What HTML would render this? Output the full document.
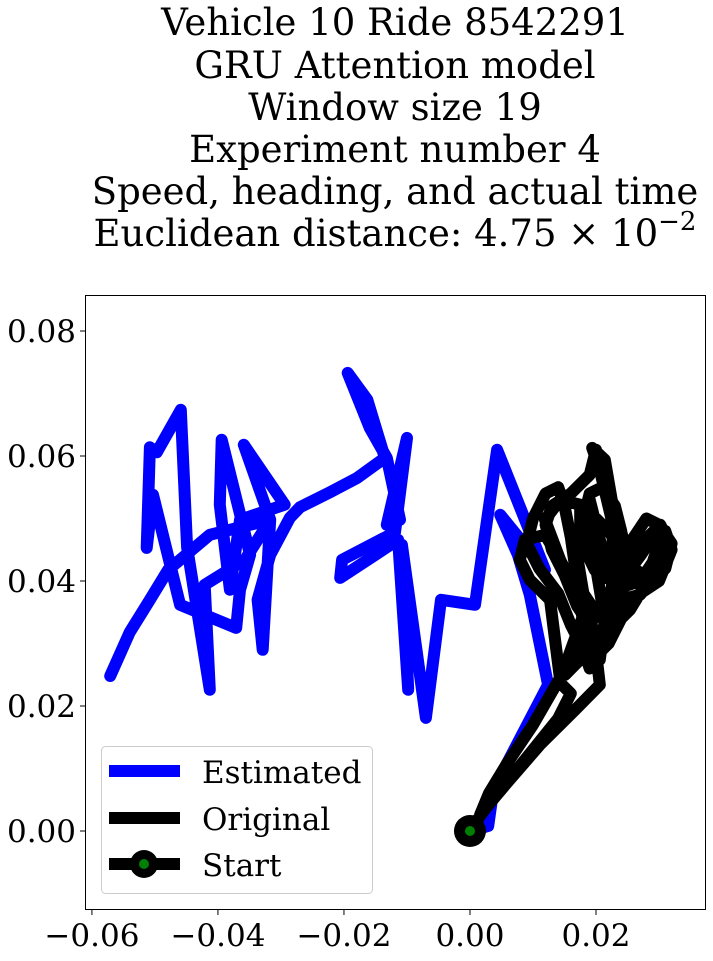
<!DOCTYPE html>
<html><head><meta charset="utf-8">
<style>
html,body{margin:0;padding:0;background:#fff;}
body{width:713px;height:957px;overflow:hidden;font-family:"DejaVu Serif","Liberation Serif",serif;}
svg text{font-family:"DejaVu Serif","Liberation Serif",serif;}
</style></head>
<body>
<svg id="chart" width="713" height="957" xmlns="http://www.w3.org/2000/svg">
  <g font-size="37" text-anchor="middle" fill="#000">
    <text x="395" y="35">Vehicle 10 Ride 8542291</text>
    <text x="395" y="78">GRU Attention model</text>
    <text x="395" y="120">Window size 19</text>
    <text x="395" y="162">Experiment number 4</text>
    <text x="395" y="204">Speed, heading, and actual time</text>
    <text x="395" y="246">Euclidean distance: 4.75 × 10<tspan dy="-16" font-size="26">−2</tspan></text>
  </g>
  <defs><clipPath id="clip"><rect x="85" y="295" width="621" height="615"/></clipPath></defs>
  <g id="marks" clip-path="url(#clip)"></g>
  <rect x="85.5" y="295.5" width="620" height="614" fill="none" stroke="#000" stroke-width="1"/>
  <g id="ticks"></g>
  <g>
    <rect x="101.5" y="746.5" width="271" height="147" rx="4" fill="#fff" fill-opacity="0.8" stroke="#ccc"/>
    <line x1="109" y1="771" x2="180" y2="771" stroke="#0000ff" stroke-width="12"/>
    <text x="202" y="783" font-size="31">Estimated</text>
    <line x1="109" y1="818" x2="180" y2="818" stroke="#000" stroke-width="12"/>
    <text x="202" y="830" font-size="31">Original</text>
    <line x1="109" y1="864" x2="180" y2="864" stroke="#000" stroke-width="12"/>
    <circle cx="144" cy="864" r="14" fill="#000"/>
    <circle cx="144" cy="864" r="5" fill="#008000"/>
    <text x="202" y="876" font-size="31">Start</text>
  </g>
</svg>
<script>
// data in units of 1e-3
const estX = [0,2.9,3.7,12.4,9.5,7.6,4.8,11.9,4.3,0.8,-4.6,-7.0,-10.8,-9.8,-11.4,-20.6,-20.3,-11.9,-10.0,-13.2,-11.1,-13.2,-15.9,-19.4,-16.3,-13.5,-17.9,-22.2,-27.0,-28.6,-31.7,-33.7,-32.9,-31.7,-35.9,-29.4,-36.5,-38.1,-39.7,-39.4,-34.9,-36.5,-37.1,-46.0,-50.3,-51.3,-50.8,-49.7,-45.9,-44.9,-41.3,-42.1,-35.7,-31.7,-41.3,-47.9,-50.8,-54.0,-57.1];
const estY = [0,0.8,6.6,23.4,37.8,44.2,50.6,41.8,61.0,36.2,37.0,18.1,45.8,22.6,46.6,40.5,43.4,47.8,62.9,49.0,49.8,59.7,64.5,73.3,69.0,59.7,56.5,54.2,51.8,50.1,44.2,37.0,29.0,49.8,61.8,52.2,49.8,38.6,52.2,62.6,44.2,38.6,32.5,36.2,53.8,45.3,61.4,60.6,67.4,45.4,22.6,39.4,43.4,49.8,47.4,41.8,37.0,31.8,24.8];
const origX = [0,2,6,10,14,16,14,10,6,3,1.6,5.6,11.1,16.7,20.6,19.8,18.3,14.3,12.7,9.5,7.9,8.7,11.9,14.3,17.5,20.6,21.4,19.8,19.0,20.6,23.0,22.5,20.6,19.4,21.4,22.5,24.6,27.0,30.2,31.4,31.0,27.0,23.8,20.6,17.5,14.3,11.9,14.3,17.5,17.5,19.8,23.8,27.8,30.2,25.4,22.2,19.0,15.1,17,21,24,27,29,31,32,30,27,24,22,20,18,17,16,15,14,12,10,9,11,14,16,18,19,21,22,23,24,23,21,19,18,19,21,24,27,29,30,28,26,24,22,20,18,17,18,20,22,24,26,29,31,32,30,28,26,25,24,23,21,19,17,15,13,12,13,16,19,20];
const origY = [0,3,8,13,18,22,24,17,11,6,2.6,7.4,13.8,19.4,23.4,30.6,35.4,24.2,37.0,40.2,43.4,46.6,47.4,43.4,37.0,27.4,33.8,43.4,53.0,46.6,38.6,49.8,57.8,61.3,59.4,53.0,45.8,45.8,49.0,46.6,42.6,37.8,37.0,35.4,37.0,43.4,49.8,53.0,52.2,46.6,41.8,41.8,40.2,43.4,35.4,32.2,29.0,25.0,30,36,40,44,47,48,45,40,38,34,30,28,33,40,47,52,55,54,50,46,42,38,33,29,26,30,36,42,48,52,55,54,50,45,41,39,40,43,46,47,44,41,38,35,38,44,48,50,48,45,42,40,42,46,49,50,47,43,37,33,31,33,36,41,45,49,52,54,57,61];
const startPt = [0, 0];
const xTicks = [-0.06,-0.04,-0.02,0.00,0.02];
const xTickLabels = ["−0.06","−0.04","−0.02","0.00","0.02"];
const yTicks = [0.00,0.02,0.04,0.06,0.08];
const yTickLabels = ["0.00","0.02","0.04","0.06","0.08"];

const X0=-0.0611, X1=0.03746, Y0=-0.01264, Y1=0.08576;
const PL=85, PR=706, PT=295, PB=910;
function sx(v){return PL+(v-X0)/(X1-X0)*(PR-PL);}
function sy(v){return PB-(v-Y0)/(Y1-Y0)*(PB-PT);}
const NS="http://www.w3.org/2000/svg";
const marks=document.getElementById('marks');
function poly(xs,ys,color,name){
  const p=document.createElementNS(NS,'polyline');
  p.setAttribute('points',xs.map((x,i)=>sx(x/1000).toFixed(1)+','+sy(ys[i]/1000).toFixed(1)).join(' '));
  p.setAttribute('fill','none');p.setAttribute('stroke',color);
  p.setAttribute('stroke-width','12');p.setAttribute('stroke-linejoin','round');p.setAttribute('stroke-linecap','round');
  
  
  marks.appendChild(p);
}
poly(estX,estY,'#0000ff','estimated-line');
poly(origX,origY,'#000','original-line');
const c1=document.createElementNS(NS,'circle');
c1.setAttribute('cx',sx(startPt[0]));c1.setAttribute('cy',sy(startPt[1]));c1.setAttribute('r','16');c1.setAttribute('fill','#000');


marks.appendChild(c1);
const c2=document.createElementNS(NS,'circle');
c2.setAttribute('cx',sx(startPt[0]));c2.setAttribute('cy',sy(startPt[1]));c2.setAttribute('r','5');c2.setAttribute('fill','#008000');


marks.appendChild(c2);

const ticks=document.getElementById('ticks');
xTicks.forEach((v,i)=>{
  const x=sx(v);
  const l=document.createElementNS(NS,'line');
  l.setAttribute('x1',x);l.setAttribute('x2',x);l.setAttribute('y1',PB);l.setAttribute('y2',PB+5);l.setAttribute('stroke','#000');
  
  
  ticks.appendChild(l);
  const t=document.createElementNS(NS,'text');
  t.setAttribute('x',x);t.setAttribute('y',PB+36);t.setAttribute('text-anchor','middle');t.setAttribute('font-size','31');
  t.textContent=xTickLabels[i];
  
  
  ticks.appendChild(t);
});
yTicks.forEach((v,i)=>{
  const y=sy(v);
  const l=document.createElementNS(NS,'line');
  l.setAttribute('x1',PL-5);l.setAttribute('x2',PL);l.setAttribute('y1',y);l.setAttribute('y2',y);l.setAttribute('stroke','#000');
  
  
  ticks.appendChild(l);
  const t=document.createElementNS(NS,'text');
  t.setAttribute('x',PL-9);t.setAttribute('y',y+11);t.setAttribute('text-anchor','end');t.setAttribute('font-size','31');
  t.textContent=yTickLabels[i];
  
  
  ticks.appendChild(t);
});
</script>
</body></html>
